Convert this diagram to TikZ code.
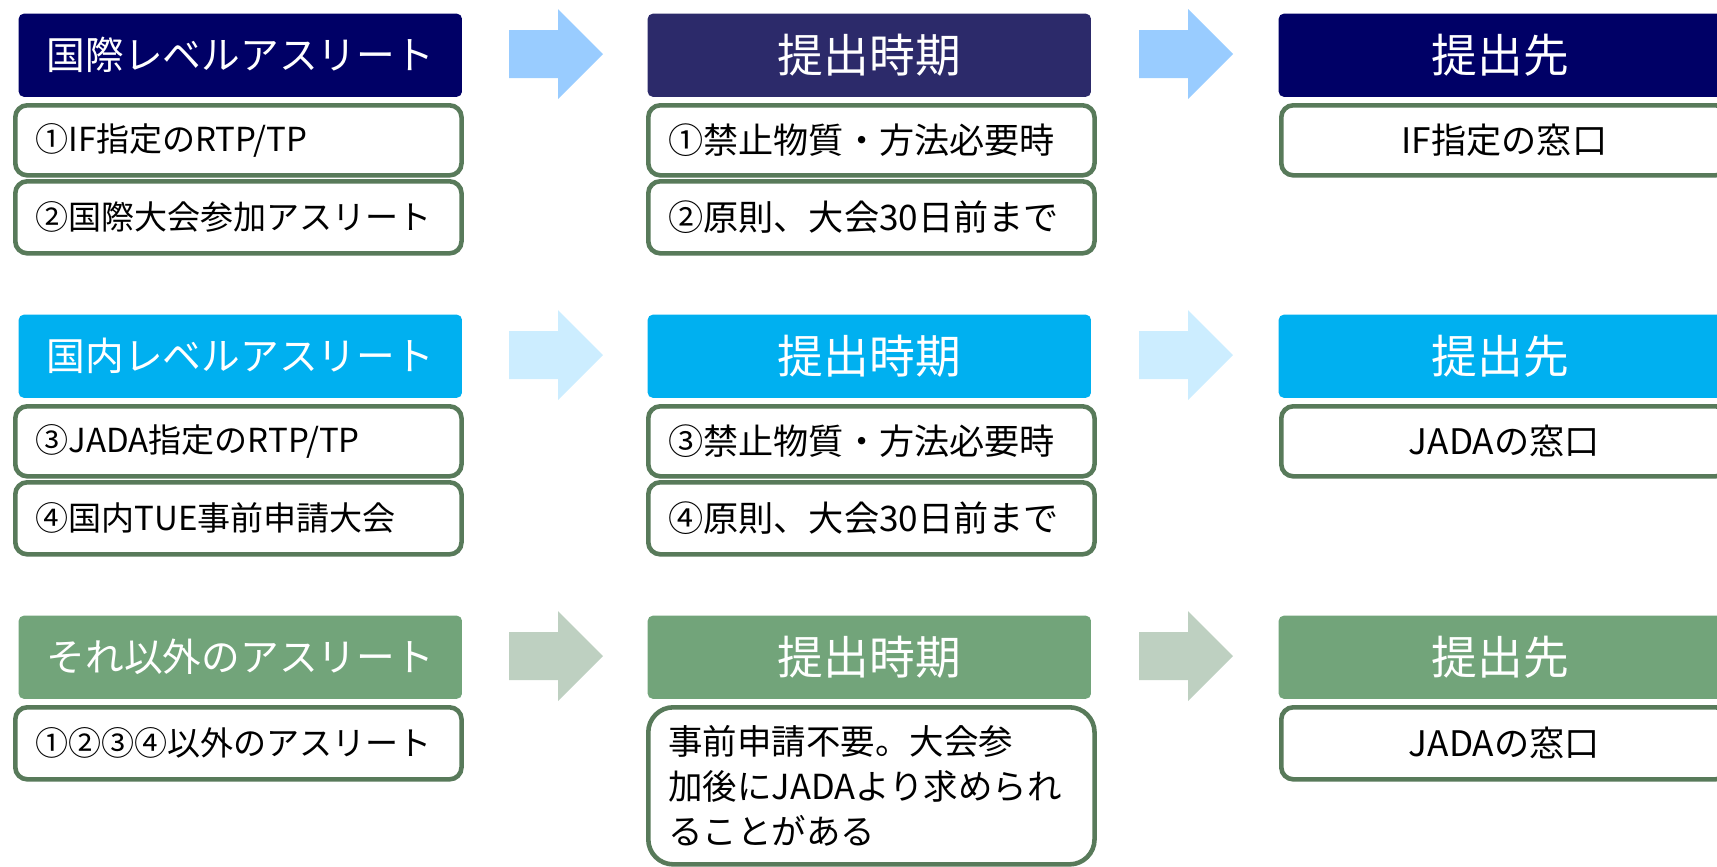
\documentclass[tikz,border=0pt]{standalone}
\usepackage{fontspec}
\setmainfont{Noto Sans CJK JP}
\usepackage{tikz}
\usetikzlibrary{positioning}
\tikzstyle{sheet} = [x = 0.01cm, y = -0.01cm]
\definecolor{navyColor}{RGB}{0,0,102}
\definecolor{midNavyColor}{RGB}{44,42,106}
\definecolor{cyanColor}{RGB}{0,176,240}
\definecolor{greenColor}{RGB}{114,164,122}
\definecolor{arrowBlue}{RGB}{153,204,255}
\definecolor{arrowCyan}{RGB}{204,237,255}
\definecolor{arrowGreen}{RGB}{190,208,193}
\definecolor{boxLineColor}{RGB}{88,122,90}
\tikzstyle{headStyle} = [rectangle, rounded corners = .05cm, text = white, inner sep = 0pt, anchor = north west, minimum width = 4.43cm, minimum height = .83cm]
\tikzstyle{headText} = [font = \fontsize{11}{13}\selectfont]
\tikzstyle{bigHeadText} = [font = \fontsize{13}{15}\selectfont]
\tikzstyle{itemStyle} = [draw = boxLineColor, line width = 1.3pt, fill = white, rounded corners = .12cm, anchor = north west, text width = 4.06cm, inner xsep = .2cm, inner ysep = 0pt, align = left]
\tikzstyle{itemText} = [font = \fontsize{9.4}{12}\selectfont]
\tikzstyle{timeText} = [font = \fontsize{10}{12.5}\selectfont]
\newcommand{\headBox}[6]{\node [headStyle, fill = #2, #5] (#1) at (#3,#4) {#6};}
\newcommand{\itemBox}[6]{\node [itemStyle, minimum height = #4cm, #5] (#1) at (#2,#3) {#6};}
\newcommand{\blockArrow}[3]{\fill [#3] (#1,#2) ++(0,-24) -- ++(49,0) -- ++(0,-21) -- ++(45,45) -- ++(-45,45) -- ++(0,-21) -- ++(-49,0) -- cycle;}

\begin{document}
\begin{tikzpicture}[sheet]
  \useasboundingbox (0,0) rectangle (1717,866);
  \clip (0,0) rectangle (1717,866);

  % international level
  \headBox{intlHead}{navyColor}{18}{13}{headText}{国際レベルアスリート}
  \itemBox{intlItemA}{13}{103}{.70}{itemText}{①IF指定のRTP/TP}
  \itemBox{intlItemB}{13}{179}{.72}{itemText}{②国際大会参加アスリート}
  \blockArrow{509}{54}{arrowBlue}
  \headBox{intlTime}{midNavyColor}{647}{13}{bigHeadText}{提出時期}
  \itemBox{intlTimeA}{646}{103}{.70}{timeText}{①禁止物質・方法必要時}
  \itemBox{intlTimeB}{646}{179}{.72}{timeText}{②原則、大会30日前まで}
  \blockArrow{1139}{54}{arrowBlue}
  \headBox{intlDest}{navyColor}{1278}{13}{bigHeadText}{提出先}
  \itemBox{intlDestA}{1279}{103}{.70}{timeText, align = center}{IF指定の窓口}

  % national level
  \headBox{natHead}{cyanColor}{18}{314}{headText}{国内レベルアスリート}
  \itemBox{natItemA}{13}{404}{.70}{itemText}{③JADA指定のRTP/TP}
  \itemBox{natItemB}{13}{480}{.72}{itemText}{④国内TUE事前申請大会}
  \blockArrow{509}{355}{arrowCyan}
  \headBox{natTime}{cyanColor}{647}{314}{bigHeadText}{提出時期}
  \itemBox{natTimeA}{646}{404}{.70}{timeText}{③禁止物質・方法必要時}
  \itemBox{natTimeB}{646}{480}{.72}{timeText}{④原則、大会30日前まで}
  \blockArrow{1139}{355}{arrowCyan}
  \headBox{natDest}{cyanColor}{1278}{314}{bigHeadText}{提出先}
  \itemBox{natDestA}{1279}{404}{.70}{timeText, align = center}{JADAの窓口}

  % other athletes
  \headBox{otherHead}{greenColor}{18}{615}{headText}{それ以外のアスリート}
  \itemBox{otherItemA}{13}{705}{.72}{itemText}{①②③④以外のアスリート}
  \blockArrow{509}{656}{arrowGreen}
  \headBox{otherTime}{greenColor}{647}{615}{bigHeadText}{提出時期}
  \itemBox{otherTimeA}{646}{705}{1.57}{font = \fontsize{9.8}{12.8}\selectfont, rounded corners = .25cm}{事前申請不要。大会参\\加後にJADAより求められ\\ることがある}
  \blockArrow{1139}{656}{arrowGreen}
  \headBox{otherDest}{greenColor}{1278}{615}{bigHeadText}{提出先}
  \itemBox{otherDestA}{1279}{705}{.72}{timeText, align = center}{JADAの窓口}
\end{tikzpicture}
\end{document}
